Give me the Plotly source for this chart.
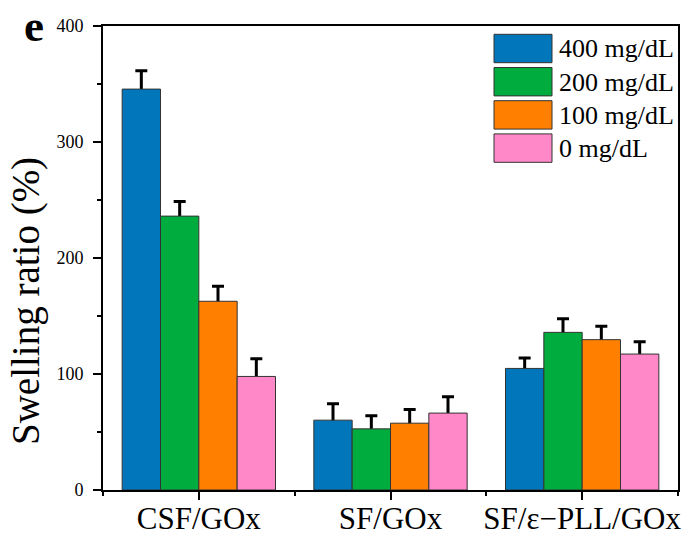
import plotly.graph_objects as go

categories = ["CSF/GOx", "SF/GOx", "SF/ε−PLL/GOx"]
series_names = ["400 mg/dL", "200 mg/dL", "100 mg/dL", "0 mg/dL"]
v400 = [345.6, 60.2, 104.8]
v200 = [236.1, 52.7, 135.9]
v100 = [162.7, 57.6, 129.6]
v0 = [97.9, 66.3, 117.2]
e400 = [15.8, 14.1, 9.0]
e200 = [12.5, 11.3, 11.8]
e100 = [12.9, 11.8, 11.5]
e0 = [15.3, 14.0, 10.7]
colors = ["#0276BA", "#00AC3E", "#FF8000", "#FF88C8"]

values = [v400, v200, v100, v0]
errors = [e400, e200, e100, e0]
xpos = list(range(len(categories)))

FONT = "Liberation Serif"
W, H = 693, 539
ML, MR, MT, MB = 103, 15, 26, 49
PW, PH = W - ML - MR, H - MT - MB
BARGAP = 0.2
n = len(series_names)
bw = (1 - BARGAP) / n

fig = go.Figure()
# error bars on the base axes (drawn beneath the bars, so only the upper half shows)
for i, (vals, errs) in enumerate(zip(values, errors)):
    off = (i - (n - 1) / 2) * bw
    fig.add_trace(go.Scatter(
        x=[x + off for x in xpos], y=vals, mode="markers", marker=dict(size=1, opacity=0),
        error_y=dict(type="data", array=errs, symmetric=True, color="black", thickness=3, width=6),
        showlegend=False, hoverinfo="skip", xaxis="x", yaxis="y",
    ))
# bars on the overlay axes (drawn above)
for name, vals, col in zip(series_names, values, colors):
    fig.add_trace(go.Bar(
        x=xpos, y=vals, name=name, marker=dict(color=col, line=dict(color="#333333", width=1)),
        showlegend=False, xaxis="x2", yaxis="y2",
    ))

def px_x(p):
    return (p - ML) / PW

def px_y(p):
    return (H - MB - p) / PH

shapes = []
annotations = []
for i, (name, col) in enumerate(zip(series_names, colors)):
    top = 34.3 + i * 33.2
    shapes.append(dict(type="rect", xref="paper", yref="paper",
                       x0=px_x(494), x1=px_x(552), y0=px_y(top + 28.4), y1=px_y(top),
                       fillcolor=col, line=dict(color="#333333", width=1)))
    annotations.append(dict(text=name, xref="paper", yref="paper", x=px_x(557), y=px_y(top + 14.5),
                            xanchor="left", yanchor="middle", showarrow=False,
                            font=dict(family=FONT, size=26, color="black")))

annotations.append(dict(text="Swelling ratio (%)", xref="paper", yref="paper", x=px_x(26), y=px_y(301),
                        xanchor="center", yanchor="middle", textangle=-90, showarrow=False,
                        font=dict(family=FONT, size=39, color="black")))
annotations.append(dict(text="<b>e</b>", xref="paper", yref="paper", x=px_x(34), y=px_y(0.5),
                        xanchor="center", yanchor="top", showarrow=False, borderpad=0,
                        font=dict(family=FONT, size=45, color="black")))

axis_common = dict(showline=True, linecolor="black", linewidth=2, mirror=True,
                   ticks="outside", ticklen=8, tickwidth=1.5, tickcolor="black",
                   showgrid=False, zeroline=False, automargin=False)

fig.update_layout(
    width=W, height=H,
    margin=dict(l=ML, r=MR, t=MT, b=MB, pad=0),
    plot_bgcolor="white", paper_bgcolor="white",
    barmode="group", bargap=BARGAP, bargroupgap=0,
    font=dict(family=FONT, color="black"),
    shapes=shapes, annotations=annotations,
    xaxis=dict(range=[-0.5, 2.5], tickmode="array", tickvals=xpos, ticktext=categories,
               minor=dict(tickmode="array", tickvals=[-0.5, 0.5, 1.5, 2.5], ticks="outside",
                          ticklen=4, tickwidth=1.5, tickcolor="black"),
               ticklabelstandoff=-8,
               tickfont=dict(family=FONT, size=31), **axis_common),
    yaxis=dict(range=[0, 400], tickvals=[0, 100, 200, 300, 400],
               minor=dict(tickvals=[50, 150, 250, 350], ticks="outside", ticklen=4,
                          tickwidth=1.5, tickcolor="black"),
               ticklabelstandoff=6,
               tickfont=dict(family=FONT, size=18), **axis_common),
    xaxis2=dict(range=[-0.5, 2.5], overlaying="x", anchor="y2", visible=False,
                showgrid=False, zeroline=False, automargin=False),
    yaxis2=dict(range=[0, 400], overlaying="y", anchor="x2", visible=False,
                showgrid=False, zeroline=False, automargin=False),
)

fig.write_html("out.html", config={"displayModeBar": False},
               post_script="document.body.style.margin='0';document.body.style.padding='0';")
